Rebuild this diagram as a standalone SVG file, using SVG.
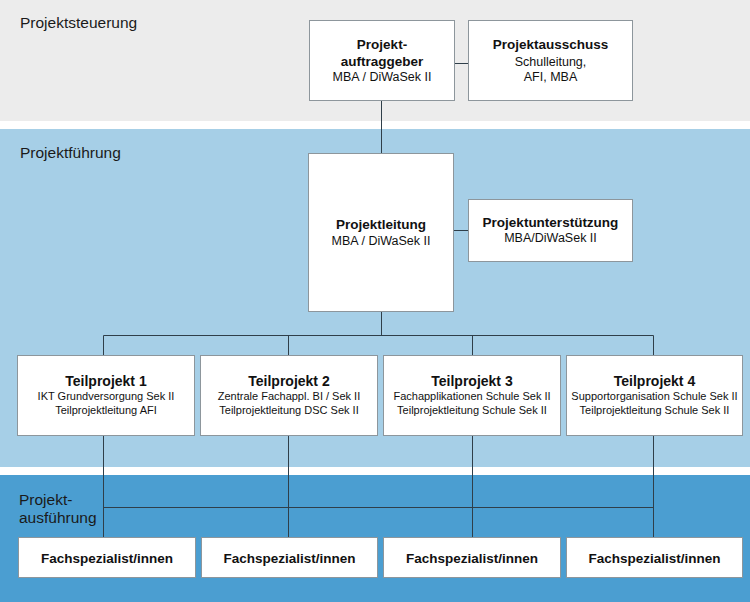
<svg xmlns="http://www.w3.org/2000/svg" width="750" height="602" viewBox="0 0 750 602">
<style>
text{font-family:"Liberation Sans",Arial,sans-serif;fill:#111}
.sec{font-size:15.5px;fill:#1a1a1a}
.b{font-weight:bold;font-size:13.5px;text-anchor:middle}
.r{font-size:12.5px;text-anchor:middle}
.tb{font-weight:bold;font-size:14px;text-anchor:middle}
.ts{font-size:11px;text-anchor:middle}
.box{fill:#fff;stroke:#8d969c;stroke-width:1}
.ln{stroke:#2f3f4a;stroke-width:1;fill:none}
</style>
<rect x="0" y="0" width="750" height="121" fill="#ececec"/>
<rect x="0" y="129" width="750" height="338" fill="#a6cfe7"/>
<rect x="0" y="475" width="750" height="127" fill="#4b9ed1"/>
<text class="sec" x="20" y="28">Projektsteuerung</text>
<text class="sec" x="20" y="158">Projektführung</text>
<text class="sec" x="19" y="505">Projekt-</text>
<text class="sec" x="19" y="523">ausführung</text>
<g id="connectors">
<path class="ln" d="M454.5 63.5H468.5"/>
<path class="ln" d="M381.5 100.5V153.5"/>
<path class="ln" d="M453.5 230.5H468.5"/>
<path class="ln" d="M381.5 311.5V335.5"/>
<path class="ln" d="M103.5 355.5V335.5H653.5V355.5"/>
<path class="ln" d="M288.5 335.5V355.5"/>
<path class="ln" d="M472.5 335.5V355.5"/>
<path class="ln" d="M103.5 435.5V537.5"/>
<path class="ln" d="M288.5 435.5V537.5"/>
<path class="ln" d="M472.5 435.5V537.5"/>
<path class="ln" d="M653.5 435.5V537.5"/>
<path class="ln" d="M103.5 507.5H653.5"/>
</g>
<g id="auftraggeber">
<rect class="box" x="309.5" y="20.5" width="145" height="80"/>
<text class="b" x="382" y="49">Projekt-</text>
<text class="b" x="382" y="66">auftraggeber</text>
<text class="r" x="382" y="81">MBA / DiWaSek II</text>
</g>
<g id="ausschuss">
<rect class="box" x="468.5" y="20.5" width="164" height="80"/>
<text class="b" x="550.5" y="49">Projektausschuss</text>
<text class="r" x="550.5" y="66">Schulleitung,</text>
<text class="r" x="550.5" y="81">AFI, MBA</text>
</g>
<g id="leitung">
<rect class="box" x="308.5" y="153.5" width="145" height="158"/>
<text class="b" x="381" y="229">Projektleitung</text>
<text class="r" x="381" y="245">MBA / DiWaSek II</text>
</g>
<g id="unterstuetzung">
<rect class="box" x="468.5" y="199.5" width="164" height="62"/>
<text class="b" x="550.5" y="227">Projektunterstützung</text>
<text class="r" x="550.5" y="242">MBA/DiWaSek II</text>
</g>
<g id="tp1">
<rect class="box" x="17.5" y="355.5" width="177" height="80"/>
<text class="tb" x="106" y="386">Teilprojekt 1</text>
<text class="ts" x="106" y="400">IKT Grundversorgung Sek II</text>
<text class="ts" x="106" y="414">Teilprojektleitung AFI</text>
</g>
<g id="tp2">
<rect class="box" x="200.5" y="355.5" width="177" height="80"/>
<text class="tb" x="289" y="386">Teilprojekt 2</text>
<text class="ts" x="289" y="400">Zentrale Fachappl. BI / Sek II</text>
<text class="ts" x="289" y="414">Teilprojektleitung DSC Sek II</text>
</g>
<g id="tp3">
<rect class="box" x="383.5" y="355.5" width="177" height="80"/>
<text class="tb" x="472" y="386">Teilprojekt 3</text>
<text class="ts" x="472" y="400">Fachapplikationen Schule Sek II</text>
<text class="ts" x="472" y="414">Teilprojektleitung Schule Sek II</text>
</g>
<g id="tp4">
<rect class="box" x="566.5" y="355.5" width="176" height="80"/>
<text class="tb" x="654.5" y="386">Teilprojekt 4</text>
<text class="ts" x="654.5" y="400">Supportorganisation Schule Sek II</text>
<text class="ts" x="654.5" y="414">Teilprojektleitung Schule Sek II</text>
</g>
<g id="fs1">
<rect class="box" x="18.5" y="537.5" width="177" height="40"/>
<text class="b" x="107" y="563">Fachspezialist/innen</text>
</g>
<g id="fs2">
<rect class="box" x="201.5" y="537.5" width="176" height="40"/>
<text class="b" x="289.5" y="563">Fachspezialist/innen</text>
</g>
<g id="fs3">
<rect class="box" x="383.5" y="537.5" width="177" height="40"/>
<text class="b" x="472" y="563">Fachspezialist/innen</text>
</g>
<g id="fs4">
<rect class="box" x="566.5" y="537.5" width="176" height="40"/>
<text class="b" x="654.5" y="563">Fachspezialist/innen</text>
</g>
</svg>
